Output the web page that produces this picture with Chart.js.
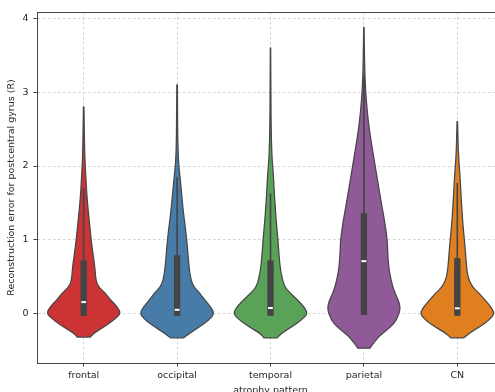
<!DOCTYPE html>
<html>
<head>
<meta charset="utf-8">
<script src="https://cdn.jsdelivr.net/npm/chart.js@4.4.1/dist/chart.umd.min.js"></script>
<style>
    html, body { margin: 0; padding: 0; background: #fff; overflow: hidden; width: 495px; height: 392px; }
    #wrap { width: 510px; height: 400px; }
</style>
</head>
<body>
<div id="wrap"><canvas id="violinChart" width="510" height="400"></canvas></div>
<script>
// Categories and tick values
const categories = ["frontal", "occipital", "temporal", "parietal", "CN"];
const yTickValues = [0, 1, 2, 3, 4];
const palette = ["#cb3334", "#477ca8", "#59a257", "#905998", "#df7f20"];

// Violin outlines: density levels (y) and half widths (category units)
const frontalY = [-0.32, -0.27, -0.18, -0.09, 0.0, 0.09, 0.18, 0.28, 0.36, 0.45, 0.63, 0.8, 1.0, 1.25, 1.54, 1.8, 2.0, 2.3, 2.8];
const frontalW = [0.07, 0.10, 0.22, 0.32, 0.40, 0.36, 0.29, 0.23, 0.16, 0.13, 0.12, 0.10, 0.08, 0.06, 0.037, 0.025, 0.016, 0.008, 0.003];

const occipitalY = [-0.33, -0.27, -0.18, -0.09, 0.0, 0.09, 0.18, 0.28, 0.36, 0.45, 0.6, 0.9, 1.1, 1.36, 1.6, 1.81, 2.04, 2.4, 3.1];
const occipitalW = [0.07, 0.13, 0.24, 0.34, 0.40, 0.36, 0.30, 0.24, 0.18, 0.15, 0.13, 0.11, 0.095, 0.068, 0.05, 0.035, 0.015, 0.006, 0.003];

const temporalY = [-0.33, -0.27, -0.18, -0.09, 0.0, 0.09, 0.18, 0.28, 0.36, 0.55, 0.8, 1.0, 1.2, 1.45, 1.7, 1.9, 2.12, 2.5, 3.0, 3.6];
const temporalW = [0.07, 0.11, 0.23, 0.33, 0.40, 0.36, 0.29, 0.21, 0.15, 0.11, 0.09, 0.08, 0.065, 0.05, 0.038, 0.03, 0.015, 0.007, 0.004, 0.002];

const parietalY = [-0.47, -0.43, -0.31, -0.18, -0.09, 0.09, 0.28, 0.45, 0.63, 0.82, 1.0, 1.27, 1.54, 1.81, 2.08, 2.35, 2.62, 2.9, 3.17, 3.5, 3.88];
const parietalW = [0.065, 0.085, 0.16, 0.29, 0.35, 0.40, 0.33, 0.29, 0.265, 0.255, 0.25, 0.22, 0.18, 0.146, 0.11, 0.075, 0.045, 0.025, 0.012, 0.006, 0.002];

const cnY = [-0.33, -0.27, -0.18, -0.09, 0.0, 0.09, 0.18, 0.28, 0.36, 0.5, 0.7, 0.95, 1.2, 1.4, 1.6, 1.85, 2.08, 2.3, 2.6];
const cnW = [0.07, 0.12, 0.24, 0.34, 0.40, 0.36, 0.30, 0.23, 0.16, 0.11, 0.095, 0.08, 0.06, 0.05, 0.04, 0.03, 0.016, 0.008, 0.003];

// Inner box stats
const q1 = [-0.03, -0.03, -0.03, -0.02, -0.03];
const q3 = [0.72, 0.79, 0.72, 1.36, 0.75];
const medians = [0.155, 0.05, 0.075, 0.71, 0.07];
const whiskerLow = [-0.03, -0.03, -0.03, -0.02, -0.03];
const whiskerHigh = [1.70, 1.85, 1.63, 3.23, 1.77];

const violinYs = [frontalY, occipitalY, temporalY, parietalY, cnY];
const violinWs = [frontalW, occipitalW, temporalW, parietalW, cnW];

const FONT = "'DejaVu Sans', sans-serif";
const INK = "#474747";

// quadratic smoothing through a list of pixel points
const smoothTo = (ctx, pts, start) => {
    if (start) ctx.moveTo(pts[0][0], pts[0][1]);
    else ctx.lineTo(pts[0][0], pts[0][1]);
    for (let i = 1; i < pts.length - 1; i++) {
        const mx = (pts[i][0] + pts[i + 1][0]) / 2;
        const my = (pts[i][1] + pts[i + 1][1]) / 2;
        ctx.quadraticCurveTo(pts[i][0], pts[i][1], mx, my);
    }
    const last = pts[pts.length - 1];
    ctx.lineTo(last[0], last[1]);
};

const violinPlugin = {
    id: "violins",
    beforeDatasetsDraw(chart) {
        const { ctx, chartArea, scales } = chart;
        const xs = scales.x;
        const ys = scales.y;
        ctx.save();
        ctx.beginPath();
        ctx.rect(chartArea.left, chartArea.top, chartArea.right - chartArea.left, chartArea.bottom - chartArea.top);
        ctx.clip();

        categories.forEach((cat, i) => {
            const yv = violinYs[i];
            const wv = violinWs[i];
            const right = yv.map((y, k) => [xs.getPixelForValue(i + wv[k]), ys.getPixelForValue(y)]);
            const left = yv.map((y, k) => [xs.getPixelForValue(i - wv[k]), ys.getPixelForValue(y)]).reverse();

            ctx.beginPath();
            smoothTo(ctx, right, true);
            smoothTo(ctx, left, false);
            ctx.closePath();
            ctx.fillStyle = palette[i];
            ctx.fill();
            ctx.lineWidth = 1.25;
            ctx.strokeStyle = INK;
            ctx.lineJoin = "round";
            ctx.stroke();

            // whisker
            const cx = xs.getPixelForValue(i);
            ctx.beginPath();
            ctx.moveTo(cx, ys.getPixelForValue(whiskerLow[i]));
            ctx.lineTo(cx, ys.getPixelForValue(whiskerHigh[i]));
            ctx.lineWidth = 1.6;
            ctx.strokeStyle = "#444";
            ctx.stroke();

            // box
            const bl = xs.getPixelForValue(i - 0.034);
            const br = xs.getPixelForValue(i + 0.034);
            const bt = ys.getPixelForValue(q3[i]);
            const bb = ys.getPixelForValue(q1[i]);
            ctx.fillStyle = "#444";
            ctx.fillRect(bl, bt, br - bl, bb - bt);
        });
        ctx.restore();
    },
    afterDraw(chart) {
        // top spine
        const { ctx, chartArea } = chart;
        ctx.save();
        ctx.beginPath();
        ctx.moveTo(chartArea.left, chartArea.top + 0.5);
        ctx.lineTo(chartArea.right, chartArea.top + 0.5);
        ctx.lineWidth = 1;
        ctx.strokeStyle = "#444";
        ctx.stroke();
        ctx.restore();
    },
};

const gridOpts = {
    color: "#c8c8c8",
    lineWidth: 0.8,
    tickLength: 3.5,
    tickColor: "#444",
    tickWidth: 1,
    tickBorderDash: [],
};

new Chart(document.getElementById("violinChart"), {
    type: "scatter",
    data: {
        datasets: [
            {
                label: "median",
                data: medians.map((m, i) => ({ x: i, y: m })),
                pointStyle: "line",
                radius: 2.4,
                borderColor: "#ffffff",
                borderWidth: 2,
                backgroundColor: "#ffffff",
            },
        ],
    },
    options: {
        responsive: false,
        animation: false,
        layout: { padding: { left: 0, top: 12, right: 3.5, bottom: 0 } },
        plugins: {
            legend: { display: false },
            tooltip: { enabled: false },
        },
        scales: {
            x: {
                type: "linear",
                min: -0.5,
                max: 4.5,
                z: 1,
                afterBuildTicks: (scale) => {
                    scale.ticks = categories.map((c, i) => ({ value: i }));
                },
                afterFit: (scale) => {
                    scale.height = 37;
                },
                ticks: {
                    callback: (v) => categories[v],
                    color: "#262626",
                    font: { family: FONT, size: 9.5 },
                    padding: 3,
                    maxRotation: 0,
                    autoSkip: false,
                },
                grid: gridOpts,
                border: { display: true, color: "#444", width: 1, dash: [2.5, 2.5] },
                title: {
                    display: true,
                    text: "atrophy pattern",
                    color: "#262626",
                    font: { family: FONT, size: 9.5 },
                    padding: 4,
                },
            },
            y: {
                min: -0.671,
                max: 4.088,
                z: 1,
                afterBuildTicks: (scale) => {
                    scale.ticks = yTickValues.map((v) => ({ value: v }));
                },
                afterFit: (scale) => {
                    scale.width = 37;
                },
                ticks: {
                    color: "#262626",
                    font: { family: FONT, size: 9.5 },
                    padding: 5,
                },
                grid: gridOpts,
                border: { display: true, color: "#444", width: 1, dash: [2.5, 2.5] },
                title: {
                    display: true,
                    text: "Reconstruction error for postcentral gyrus (R)",
                    color: "#262626",
                    font: { family: FONT, size: 9.5 },
                    padding: { top: 6, bottom: 0 },
                },
            },
        },
    },
    plugins: [violinPlugin],
});
</script>
</body>
</html>
